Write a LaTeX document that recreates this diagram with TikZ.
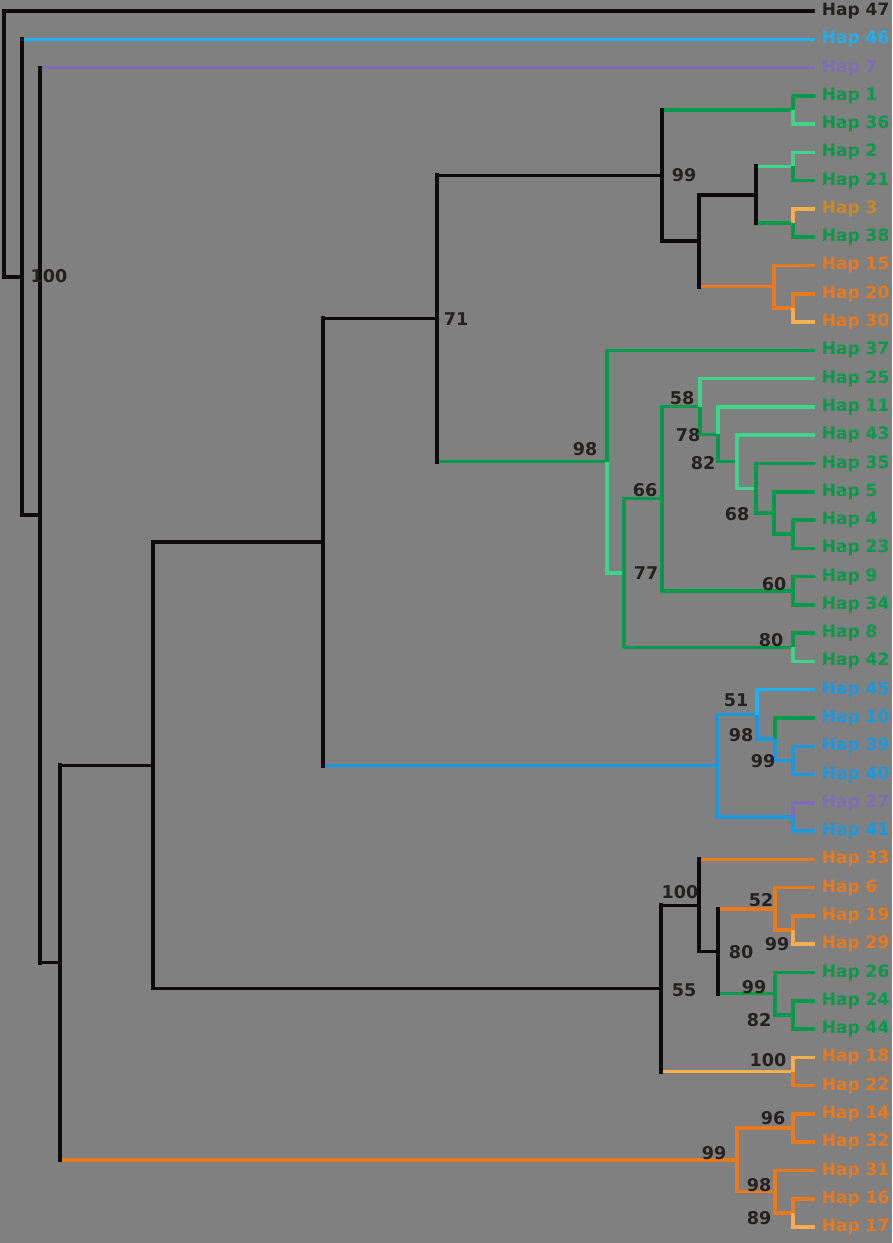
\documentclass[tikz,border=0pt]{standalone}
\usepackage{fontspec}
\setmainfont{DejaVu Sans}
\usepackage{xcolor}
\usepackage{tikz}
\definecolor{TreeGray}{HTML}{808080}
\definecolor{TreeInk}{HTML}{0D0B0B}
\definecolor{SupInk}{HTML}{262121}
\definecolor{HapGreen}{HTML}{009A4A}
\definecolor{HapLime}{HTML}{3FD487}
\definecolor{HapOrange}{HTML}{E8791C}
\definecolor{HapPeach}{HTML}{F6AE4E}
\definecolor{HapBlue}{HTML}{1A98DE}
\definecolor{HapCyan}{HTML}{1CB1F0}
\definecolor{HapPurple}{HTML}{7C6DB6}
\definecolor{HapOlive}{HTML}{C98A24}

\begin{document}
\begin{tikzpicture}[x=0.03cm,y=-0.03cm,
  br/.style={line width=3pt},
  bk/.style={line width=3.5pt,line cap=rect,TreeInk},
  hap/.style={anchor=west,inner sep=0.2cm,font=\fontsize{14.5}{16}\selectfont\bfseries},
  sup/.style={inner sep=0pt,text=SupInk,font=\fontsize{15}{16}\selectfont\bfseries}]
\fill[TreeGray] (0,0) rectangle (892,1243);
\path[use as bounding box] (0,0) rectangle (892,1243);
\coordinate (root) at (4,144);
\coordinate (nA) at (22,277.2);
\coordinate (nB) at (40,515.1);
\coordinate (nC) at (60,962.6);
\coordinate (nD) at (153,765.3);
\coordinate (nE) at (323,542.1);
\coordinate (nG) at (437,318.5);
\coordinate (nH) at (662,175.4);
\coordinate (c1) at (793,110);
\coordinate (nJ) at (699,240.8);
\coordinate (nK) at (756,194.8);
\coordinate (c2) at (793,166.5);
\coordinate (c3) at (793,223.1);
\coordinate (nL) at (774,286.7);
\coordinate (c4) at (793,308);
\coordinate (nI) at (607,461.7);
\coordinate (nM) at (624,573);
\coordinate (nN) at (662,498.6);
\coordinate (nO) at (700,406.5);
\coordinate (nP) at (718,434.3);
\coordinate (nQ) at (737,461.7);
\coordinate (nR) at (756,488.3);
\coordinate (nS) at (774,513);
\coordinate (c5) at (793,534.2);
\coordinate (c7) at (793,590.8);
\coordinate (c8) at (793,647.3);
\coordinate (nBl) at (717,765.7);
\coordinate (nT) at (757,714.5);
\coordinate (nU) at (775,739.2);
\coordinate (c9) at (793,760.4);
\coordinate (c10) at (793,817);
\coordinate (nF) at (661,988.4);
\coordinate (nV) at (699,905.4);
\coordinate (nW) at (718,951.3);
\coordinate (nX) at (775,908.9);
\coordinate (c11) at (793,930.1);
\coordinate (nY) at (775,993.7);
\coordinate (c13) at (793,1015);
\coordinate (c12) at (793,1071.5);
\coordinate (nOr) at (737,1159.9);
\coordinate (c14) at (793,1128);
\coordinate (nZ) at (775,1191.7);
\coordinate (c15) at (793,1212.9);

\node[hap,text=SupInk] (h47) at (815,11) {Hap 47};
\node[hap,text=HapCyan] (h46) at (815,39.3) {Hap 46};
\node[hap,text=HapPurple] (h7) at (815,67.6) {Hap 7};
\node[hap,text=HapGreen] (h1) at (815,95.8) {Hap 1};
\node[hap,text=HapGreen] (h36) at (815,124.1) {Hap 36};
\node[hap,text=HapGreen] (h2) at (815,152.4) {Hap 2};
\node[hap,text=HapGreen] (h21) at (815,180.7) {Hap 21};
\node[hap,text=HapOlive] (h3) at (815,209) {Hap 3};
\node[hap,text=HapGreen] (h38) at (815,237.2) {Hap 38};
\node[hap,text=HapOrange] (h15) at (815,265.5) {Hap 15};
\node[hap,text=HapOrange] (h20) at (815,293.8) {Hap 20};
\node[hap,text=HapOrange] (h30) at (815,322.1) {Hap 30};
\node[hap,text=HapGreen] (h37) at (815,350.4) {Hap 37};
\node[hap,text=HapGreen] (h25) at (815,378.6) {Hap 25};
\node[hap,text=HapGreen] (h11) at (815,406.9) {Hap 11};
\node[hap,text=HapGreen] (h43) at (815,435.2) {Hap 43};
\node[hap,text=HapGreen] (h35) at (815,463.5) {Hap 35};
\node[hap,text=HapGreen] (h5) at (815,491.8) {Hap 5};
\node[hap,text=HapGreen] (h4) at (815,520) {Hap 4};
\node[hap,text=HapGreen] (h23) at (815,548.3) {Hap 23};
\node[hap,text=HapGreen] (h9) at (815,576.6) {Hap 9};
\node[hap,text=HapGreen] (h34) at (815,604.9) {Hap 34};
\node[hap,text=HapGreen] (h8) at (815,633.2) {Hap 8};
\node[hap,text=HapGreen] (h42) at (815,661.4) {Hap 42};
\node[hap,text=HapBlue] (h45) at (815,689.7) {Hap 45};
\node[hap,text=HapBlue] (h10) at (815,718) {Hap 10};
\node[hap,text=HapBlue] (h39) at (815,746.3) {Hap 39};
\node[hap,text=HapBlue] (h40) at (815,774.6) {Hap 40};
\node[hap,text=HapPurple] (h27) at (815,802.8) {Hap 27};
\node[hap,text=HapBlue] (h41) at (815,831.1) {Hap 41};
\node[hap,text=HapOrange] (h33) at (815,859.4) {Hap 33};
\node[hap,text=HapOrange] (h6) at (815,887.7) {Hap 6};
\node[hap,text=HapOrange] (h19) at (815,916) {Hap 19};
\node[hap,text=HapOrange] (h29) at (815,944.2) {Hap 29};
\node[hap,text=HapGreen] (h26) at (815,972.5) {Hap 26};
\node[hap,text=HapGreen] (h24) at (815,1000.8) {Hap 24};
\node[hap,text=HapGreen] (h44) at (815,1029.1) {Hap 44};
\node[hap,text=HapOrange] (h18) at (815,1057.4) {Hap 18};
\node[hap,text=HapOrange] (h22) at (815,1085.6) {Hap 22};
\node[hap,text=HapOrange] (h14) at (815,1113.9) {Hap 14};
\node[hap,text=HapOrange] (h32) at (815,1142.2) {Hap 32};
\node[hap,text=HapOrange] (h31) at (815,1170.5) {Hap 31};
\node[hap,text=HapOrange] (h16) at (815,1198.8) {Hap 16};
\node[hap,text=HapOrange] (h17) at (815,1227) {Hap 17};

\draw[br,TreeInk] (root) |- (h47);
\draw[br,TreeInk] (root) |- (nA);
\draw[br,HapCyan] (nA) |- (h46);
\draw[br,TreeInk] (nA) |- (nB);
\draw[br,HapPurple] (nB) |- (h7);
\draw[br,TreeInk] (nB) |- (nC);
\draw[br,TreeInk] (nC) |- (nD);
\draw[br,HapOrange] (nC) |- (nOr);
\draw[br,TreeInk] (nD) |- (nE);
\draw[br,TreeInk] (nD) |- (nF);
\draw[br,TreeInk] (nE) |- (nG);
\draw[br,HapBlue] (nE) |- (nBl);
\draw[br,TreeInk] (nG) |- (nH);
\draw[br,HapGreen] (nG) |- (nI);
\draw[br,HapGreen] (nH) |- (c1);
\draw[br,TreeInk] (nH) |- (nJ);
\draw[br,HapGreen] (c1) |- (h1);
\draw[br,HapLime] (c1) |- (h36);
\draw[br,TreeInk] (nJ) |- (nK);
\draw[br,HapOrange] (nJ) |- (nL);
\draw[br,HapLime] (nK) |- (c2);
\draw[br,HapGreen] (nK) |- (c3);
\draw[br,HapLime] (c2) |- (h2);
\draw[br,HapGreen] (c2) |- (h21);
\draw[br,HapPeach] (c3) |- (h3);
\draw[br,HapGreen] (c3) |- (h38);
\draw[br,HapOrange] (nL) |- (h15);
\draw[br,HapOrange] (nL) |- (c4);
\draw[br,HapOrange] (c4) |- (h20);
\draw[br,HapPeach] (c4) |- (h30);
\draw[br,HapGreen] (nI) |- (h37);
\draw[br,HapLime] (nI) |- (nM);
\draw[br,HapGreen] (nM) |- (nN);
\draw[br,HapGreen] (nM) |- (c8);
\draw[br,HapGreen] (nN) |- (nO);
\draw[br,HapGreen] (nN) |- (c7);
\draw[br,HapLime] (nO) |- (h25);
\draw[br,HapGreen] (nO) |- (nP);
\draw[br,HapLime] (nP) |- (h11);
\draw[br,HapGreen] (nP) |- (nQ);
\draw[br,HapLime] (nQ) |- (h43);
\draw[br,HapLime] (nQ) |- (nR);
\draw[br,HapGreen] (nR) |- (h35);
\draw[br,HapGreen] (nR) |- (nS);
\draw[br,HapGreen] (nS) |- (h5);
\draw[br,HapGreen] (nS) |- (c5);
\draw[br,HapGreen] (c5) |- (h4);
\draw[br,HapGreen] (c5) |- (h23);
\draw[br,HapGreen] (c7) |- (h9);
\draw[br,HapGreen] (c7) |- (h34);
\draw[br,HapGreen] (c8) |- (h8);
\draw[br,HapLime] (c8) |- (h42);
\draw[br,HapBlue] (nBl) |- (nT);
\draw[br,HapBlue] (nBl) |- (c10);
\draw[br,HapCyan] (nT) |- (h45);
\draw[br,HapBlue] (nT) |- (nU);
\draw[br,HapGreen] (nU) |- (h10);
\draw[br,HapBlue] (nU) |- (c9);
\draw[br,HapBlue] (c9) |- (h39);
\draw[br,HapBlue] (c9) |- (h40);
\draw[br,HapPurple] (c10) |- (h27);
\draw[br,HapBlue] (c10) |- (h41);
\draw[br,TreeInk] (nF) |- (nV);
\draw[br,HapPeach] (nF) |- (c12);
\draw[br,HapOrange] (nV) |- (h33);
\draw[br,TreeInk] (nV) |- (nW);
\draw[br,HapOrange] (nW) |- (nX);
\draw[br,HapGreen] (nW) |- (nY);
\draw[br,HapOrange] (nX) |- (h6);
\draw[br,HapOrange] (nX) |- (c11);
\draw[br,HapOrange] (c11) |- (h19);
\draw[br,HapPeach] (c11) |- (h29);
\draw[br,HapGreen] (nY) |- (h26);
\draw[br,HapGreen] (nY) |- (c13);
\draw[br,HapGreen] (c13) |- (h24);
\draw[br,HapGreen] (c13) |- (h44);
\draw[br,HapPeach] (c12) |- (h18);
\draw[br,HapOrange] (c12) |- (h22);
\draw[br,HapOrange] (nOr) |- (c14);
\draw[br,HapOrange] (nOr) |- (nZ);
\draw[br,HapOrange] (c14) |- (h14);
\draw[br,HapOrange] (c14) |- (h32);
\draw[br,HapOrange] (nZ) |- (h31);
\draw[br,HapOrange] (nZ) |- (c15);
\draw[br,HapOrange] (c15) |- (h16);
\draw[br,HapPeach] (c15) |- (h17);

\draw[bk] (root |- h47) -- (root |- nA) (nA |- h46) -- (nA |- nB)
  (nB |- h7) -- (nB |- nC) (nC |- nD) -- (nC |- nOr)
  (nD |- nE) -- (nD |- nF) (nE |- nG) -- (nE |- nBl)
  (nG |- nH) -- (nG |- nI) (nH |- c1) -- (nH |- nJ)
  (nJ |- nK) -- (nJ |- nL) (nK |- c2) -- (nK |- c3)
  (nF |- nV) -- (nF |- c12) (nV |- h33) -- (nV |- nW)
  (nW |- nX) -- (nW |- nY);

\node[sup] (bRoot) at (49,276) {100};
\node[sup] (bG) at (456,319) {71};
\node[sup] (bH) at (684,175) {99};
\node[sup] (bI) at (585,449) {98};
\node[sup] (bO) at (682,398) {58};
\node[sup] (bP) at (688,435) {78};
\node[sup] (bQ) at (703,463) {82};
\node[sup] (bN) at (645,490) {66};
\node[sup] (bS) at (737,514) {68};
\node[sup] (bM) at (646,573) {77};
\node[sup] (bC7) at (774,584) {60};
\node[sup] (bC8) at (771,640) {80};
\node[sup] (bT) at (736,700) {51};
\node[sup] (bU) at (741,735) {98};
\node[sup] (bC9) at (763,761) {99};
\node[sup] (bV) at (680,892) {100};
\node[sup] (bX) at (761,900) {52};
\node[sup] (bC11) at (777,944) {99};
\node[sup] (bW) at (741,952) {80};
\node[sup] (bF) at (684,990) {55};
\node[sup] (bY) at (754,987) {99};
\node[sup] (bC13) at (759,1020) {82};
\node[sup] (bC12) at (768,1060) {100};
\node[sup] (bC14) at (773,1118) {96};
\node[sup] (bOr) at (714,1153) {99};
\node[sup] (bZ) at (759,1185) {98};
\node[sup] (bC15) at (759,1218) {89};
\end{tikzpicture}
\end{document}
